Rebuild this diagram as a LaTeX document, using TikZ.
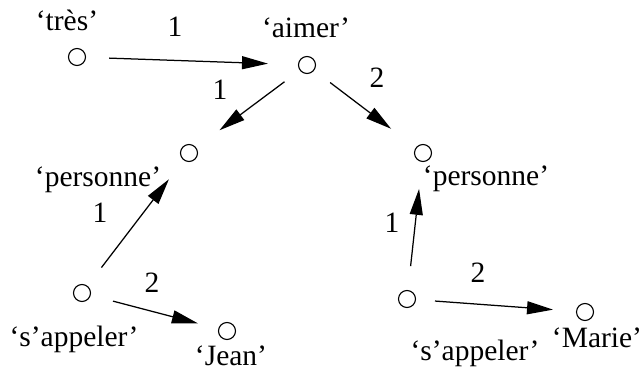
\documentclass[tikz,border=0pt]{standalone}
\usepackage{fontspec}
\setmainfont{Liberation Serif}
\usetikzlibrary{arrows.meta}
\begin{document}
\begin{tikzpicture}[x=1pt,y=-1pt,
  vertex/.style={circle,draw,line width=1.1pt,minimum size=17pt,inner sep=0pt},
  word/.style={inner sep=0pt,anchor=base,font=\fontsize{29.5}{31}\selectfont},
  num/.style={inner sep=0pt,anchor=base,font=\fontsize{29.5}{31}\selectfont},
  edge/.style={line width=1.25pt,-{Triangle[length=26pt,width=13pt]}}]
\useasboundingbox (0,0) rectangle (642,371);
% vertices
\node[vertex] (tres) at (77,57) {};
\node[vertex] (aimer) at (307,65) {};
\node[vertex] (persL) at (189,153) {};
\node[vertex] (persR) at (423,153) {};
\node[vertex] (appL) at (82,293) {};
\node[vertex] (jean) at (227,331) {};
\node[vertex] (appR) at (407,299) {};
\node[vertex] (marie) at (585,312) {};
% words (placed by baseline)
\node[word] (ltres) at (67,31) {‘très’};
\node[word] (laimer) at (306,38) {‘aimer’};
\node[word] (lpersL) at (98,187) {‘personne’};
\node[word] (lpersR) at (486,186) {‘personne’};
\node[word] (lappL) at (74,346) {‘s’appeler’};
\node[word] (ljean) at (231,365) {‘Jean’};
\node[word] (lappR) at (475,360) {‘s’appeler’};
\node[word] (lmarie) at (597,347) {‘Marie’};
% arcs
\draw[edge,shorten <=23pt,shorten >=30pt] (tres) -- (aimer);
\draw[edge,shorten <=19pt,shorten >=29pt] (aimer) -- (persL);
\draw[edge,shorten <=20pt,shorten >=31pt] (aimer) -- (persR);
\draw[edge,shorten <=23pt,shorten >=24pt] (appL) -- (persL);
\draw[edge,shorten <=23pt,shorten >=21pt] (appL) -- (jean);
\draw[edge,shorten <=24pt,shorten >=27pt] (appR) -- (persR);
\draw[edge,shorten <=19pt,shorten >=23pt] (appR) -- (marie);
% arc numbers
\node[num] (n1) at (175,37) {1};
\node[num] (n2) at (220,100) {1};
\node[num] (n3) at (377,88) {2};
\node[num] (n4) at (100,223) {1};
\node[num] (n5) at (152,292) {2};
\node[num] (n6) at (392,233) {1};
\node[num] (n7) at (478,283) {2};
\end{tikzpicture}
\end{document}
